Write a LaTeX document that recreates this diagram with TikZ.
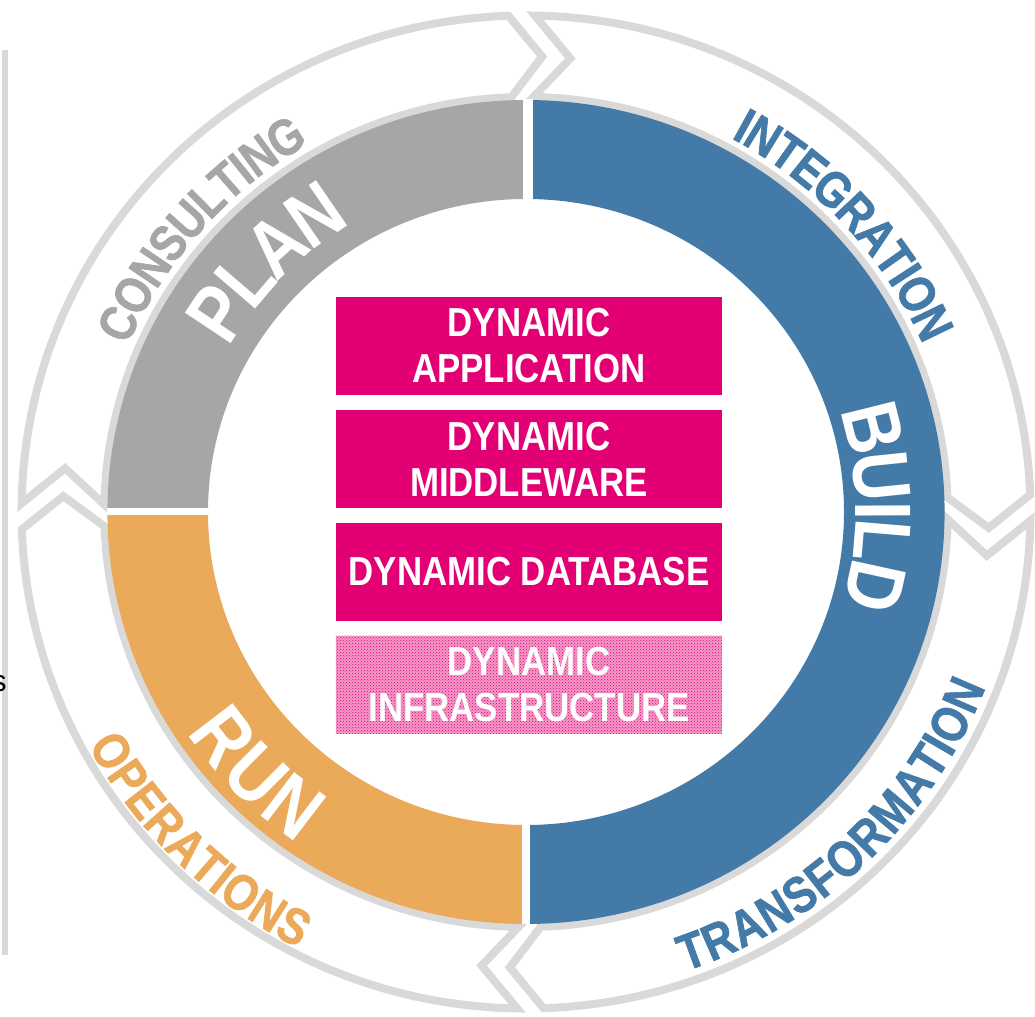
\documentclass[tikz,border=0pt]{standalone}
\usepackage{fontspec}
\setmainfont{Liberation Sans}
\newfontfamily\telefont{Liberation Sans Bold}[FakeStretch=0.86]
\newfontfamily\servfont{Liberation Sans Bold}[FakeStretch=0.85,FakeBold=1.2]
\usetikzlibrary{positioning,decorations.text,patterns}
\definecolor{tmagenta}{HTML}{E20074}
\definecolor{ringgray}{HTML}{A6A6A6}
\definecolor{ringblue}{HTML}{437AA8}
\definecolor{ringorange}{HTML}{EBA95A}
\definecolor{bandgray}{HTML}{D9D9D9}
\newcommand\boxfont{\telefont\fontsize{40.5}{46}\selectfont}
\newcommand\phasefont{\telefont\fontsize{80}{80}\selectfont}
\newcommand\servicefont{\servfont\fontsize{51}{51}\selectfont}

\begin{document}
\begin{tikzpicture}[x=1.016pt,y=1pt,
    band/.style={draw=bandgray,line width=8pt},
    dynbox/.style={fill=tmagenta,text=white,minimum width=386pt,minimum height=98pt,
      inner sep=0pt,align=center,font=\boxfont},
    phase/.style={decorate,decoration={text along path,text align=center,raise=-28.6pt,
      text color=white,text={|\phasefont|#1}}},
    service/.style 2 args={decorate,decoration={text along path,text align=center,
      raise=-18.3pt,text color=#1,text={|\servicefont|#2}}}]
  \useasboundingbox (-517.72,-505) rectangle (500.98,512);

  % margin of the slide
  \fill[bandgray] (-515.7,-443) rectangle (-509.8,462);
  \node[anchor=east,inner sep=0pt,font=\fontsize{30}{30}\selectfont] (frag) at (-511,-172) {s};

  % outer arrows, clockwise
  \foreach \a/\b in {180/90,90/0,0/-90,270/180}
    \draw[band] ({\a-1}:496.5) arc[start angle=\a-1,end angle=\b+2,radius=496.5]
      -- ({\b-2}:455.7) -- ({\b+2}:415) arc[start angle=\b+2,end angle=\a-1,radius=415]
      -- ({\a-5.5}:455.7) -- cycle;

  % PLAN / RUN / BUILD ring
  \fill[ringgray] (90:412) arc[start angle=90,end angle=180,radius=412]
    -- (180:313) arc[start angle=180,end angle=90,radius=313] -- cycle;
  \fill[ringorange] (180:412) arc[start angle=180,end angle=270,radius=412]
    -- (270:313) arc[start angle=270,end angle=180,radius=313] -- cycle;
  \fill[ringblue] (-90:412) arc[start angle=-90,end angle=90,radius=412]
    -- (90:313) arc[start angle=90,end angle=-90,radius=313] -- cycle;
  \fill[white] (-2.95,300) rectangle (6.9,412.5);
  \fill[white] (-412.5,-3) rectangle (-300,4);
  \fill[white] (-3.94,-300) rectangle (3.94,-412.5);

  % phases
  \path[phase=PLAN] (180.9:363) arc[start angle=180.9,end angle=90.9,radius=363];
  \path[phase=BUILD] (45.85:353) arc[start angle=45.85,end angle=-44.15,radius=353];
  \path[phase=RUN] (179.4:372) arc[start angle=179.4,end angle=269.4,radius=372];

  % services
  \path[service={ringgray}{CONSULTING}] (183.7:444) arc[start angle=183.7,end angle=93.7,radius=444];
  \path[service={ringblue}{INTEGRATION}] (87.3:443) arc[start angle=87.3,end angle=-2.7,radius=443];
  \path[service={ringblue}{TRANSFORMATION}] (269:467) arc[start angle=269,end angle=359,radius=467];
  \path[service={ringorange}{OPERATIONS}] (180.4:472) arc[start angle=180.4,end angle=270.4,radius=472];

  % stack
  \node[dynbox] (app) at (2.95,166) {DYNAMIC\\APPLICATION};
  \node[dynbox,below=14.5pt of app] (mid) {DYNAMIC\\MIDDLEWARE};
  \node[dynbox,below=14.5pt of mid] (db) {DYNAMIC DATABASE};
  \node[dynbox,below=14.5pt of db,fill=tmagenta!40,
    postaction={pattern=crosshatch dots,pattern color=tmagenta}] (infra) {DYNAMIC\\INFRASTRUCTURE};
\end{tikzpicture}
\end{document}
